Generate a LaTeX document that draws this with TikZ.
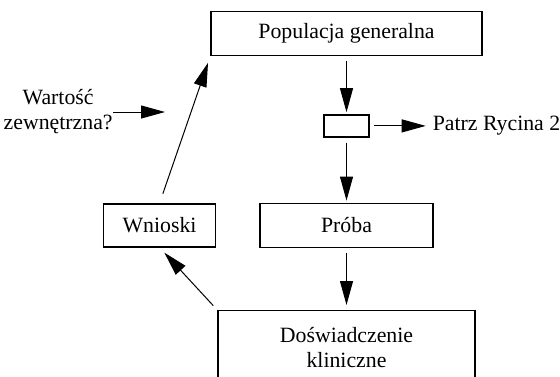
\documentclass[tikz,border=0pt]{standalone}
\usepackage{fontspec}
\setmainfont{Liberation Serif}
\usepackage{tikz}
\usetikzlibrary{arrows.meta,positioning}

\begin{document}
\begin{tikzpicture}[node distance=30pt, auto,
        >={Triangle[length=12pt,width=6.5pt]},
        box/.style={rectangle, draw, line width=0.7pt, inner sep=0pt, align=center, font=\fontsize{10.9}{12.5}\selectfont},
        txt/.style={align=center, font=\fontsize{10.9}{12.5}\selectfont},
        conn/.style={->, line width=0.5pt, shorten <=2.5pt, shorten >=1pt}]

        \useasboundingbox (0,0) rectangle (280pt,-188pt);

        \node[box, minimum width=135.5pt, minimum height=22pt] (pop) at (173.25pt,-16.75pt) {Populacja generalna};
        \node[box, minimum width=22.5pt, minimum height=11pt, below=29pt of pop] (sel) {};
        \node[box, minimum width=86.5pt, minimum height=22pt, below=32.5pt of sel] (proba) {Próba};
        \node[box, minimum width=128.5pt, minimum height=37pt, below=31pt of proba] (trial) {Doświadczenie\\kliniczne};
        \node[box, minimum width=56pt, minimum height=21.5pt, left=21.5pt of proba] (wnioski) {Wnioski};
        \node[txt, right=28pt of sel] (fig) {Patrz Rycina 2};
        \coordinate (wtip) at (82.5pt,-56pt);
        \node[txt, inner sep=0pt, left=26pt of wtip] (ext) {Wartość\\zewnętrzna?};

        \draw[conn] (pop) -- (sel);
        \draw[conn] (sel) -- (proba);
        \draw[conn, shorten >=2.5pt] (proba) -- (trial);
        \draw[conn, shorten <=2pt, shorten >=0pt] (sel) -- (fig);
        \draw[conn, shorten <=3pt, shorten >=3.5pt] (trial.north west) -- (wnioski.south);
        \draw[conn, shorten <=5pt, shorten >=3.5pt] (wnioski.north) -- (pop.south west);
        \draw[conn, shorten <=0pt, shorten >=0pt] (ext) -- (wtip);
    \end{tikzpicture}
\end{document}
